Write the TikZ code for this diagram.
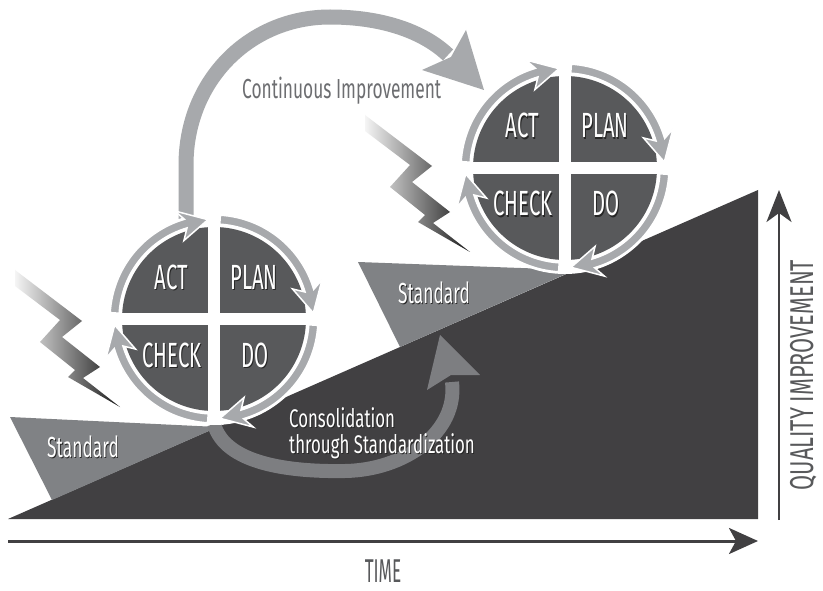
\documentclass[tikz,border=0pt]{standalone}
\usepackage{fontspec}
\setmainfont{Fira Sans}
\usetikzlibrary{calc,arrows.meta}

\definecolor{rampgray}{HTML}{414042}
\definecolor{stdgray}{HTML}{808285}
\definecolor{quadgray}{HTML}{58595B}
\definecolor{ringgray}{HTML}{A7A9AC}
\definecolor{consgray}{HTML}{7D7E81}
\definecolor{labelgray}{HTML}{6D6E71}
\definecolor{axisgray}{HTML}{414042}

% white lettering with a small dark drop shadow
\newcommand\shd[1]{\rlap{\kern1.4pt\raisebox{-1.4pt}{\color{black!85}#1}}#1}

% radii of the PDCA wheel
\def\pdRout{104}
\def\pdRin{95}
\def\pdRmid{99.5}
\def\pdRquad{92}

% one curved ring arrow: #1 centre, #2 start angle, #3 tip angle (clockwise)
\newcommand\pdcaseg[3]{%
  \pgfmathsetmacro\segE{#3-13}%
  \filldraw[ringseg] ($(#1)+(#2:\pdRout)$)
    arc[start angle=#2, end angle=\segE, radius=\pdRout]
    -- ($(#1)+({\segE-3.5}:{\pdRout+11})$)
    -- ($(#1)+(#3:\pdRmid)$)
    -- ($(#1)+({\segE-4.5}:{\pdRin-11})$)
    -- ($(#1)+(\segE:\pdRin)$)
    arc[start angle=\segE, end angle=#2, radius=\pdRin] -- cycle;
}

% a full Plan-Do-Check-Act wheel: #1 name, #2 x, #3 y
\newcommand\pdcawheel[3]{%
  \coordinate (#1) at (#2,#3);
  \fill[white] (#1) circle[radius=106];
  \fill[quadgray] (#1) circle[radius=\pdRquad];
  \draw[white, line width=12pt] ($(#1)+(-96,0)$) -- ($(#1)+(96,0)$);
  \draw[white, line width=12pt] ($(#1)+(0,-96)$) -- ($(#1)+(0,96)$);
  \pdcaseg{#1}{183.5}{266.5}
  \pdcaseg{#1}{273.5}{356.5}
  \pdcaseg{#1}{3.5}{86.5}
  \pdcaseg{#1}{93.5}{176.5}
  \node[pdcalabel] (#1act)   at ($(#1)+(-42.5,-30)$) {\scalebox{\pdsx}[1]{\shd{ACT}}};
  \node[pdcalabel] (#1plan)  at ($(#1)+(40,-30)$)    {\scalebox{\pdsx}[1]{\shd{PLAN}}};
  \node[pdcalabel] (#1check) at ($(#1)+(-42,48)$)    {\scalebox{\pdsx}[1]{\shd{CHECK}}};
  \node[pdcalabel] (#1do)    at ($(#1)+(41,48)$)     {\scalebox{\pdsx}[1]{\shd{DO}}};
}
\def\pdsx{0.58}

% zig-zag disturbance, shifted by (#1,#2)
\newcommand\zigbolt[2]{%
  \begin{scope}[shift={(#1,#2)}]
    \shade[left color=black!4, right color=black!90]
      (15,270) -- (82,321) -- (62,337) -- (100,367) -- (83,378) -- (120,407)
      -- (68,377) -- (75,370) -- (40,342) -- (60,320) -- (15,286) -- cycle;
  \end{scope}
}

\tikzset{
  ringseg/.style={fill=ringgray, draw=white, line width=1.5pt, line join=miter},
  pdcalabel/.style={text=white, anchor=base, inner sep=0pt, font=\fontsize{35}{35}\selectfont},
  stdlabel/.style={text=white, anchor=base west, inner sep=0pt, font=\fontsize{29}{29}\selectfont},
  conslabel/.style={text=white, anchor=base west, inner sep=0pt, font=\fontsize{25.5}{25.5}\selectfont},
  axislabel/.style={text=quadgray, inner sep=0pt, anchor=base, font=\fontsize{35}{35}\selectfont},
  axisline/.style={draw=axisgray, line width=3pt, -{Stealth[length=29pt, width=26pt, inset=7pt]}},
}

\begin{document}
\begin{tikzpicture}[x=1pt, y=1pt, yscale=-1]
  \useasboundingbox (0,0) rectangle (823,591);
  \fill[white] (0,0) rectangle (823,591);

  % continuous improvement arc from the lower wheel to the upper one
  \coordinate (ciStart) at (186,222);
  \coordinate (ciEnd) at (448,55);
  \draw[ringgray, line width=15pt] (ciStart) -- (186,165)
    .. controls (186,80) and (250,17) .. (330,17)
    .. controls (385,17) and (425,33) .. (ciEnd);
  \fill[ringgray] (466,30) -- (484,90) -- (422,70) -- (451,57) -- cycle;

  % rising quality ramp
  \fill[rampgray] (8,519) -- (758,519) -- (758,190) -- cycle;

  % standard wedges
  \fill[stdgray] (10,417) -- (218,427) -- (52,500) -- cycle;
  \fill[stdgray] (358,262) -- (575,270) -- (400,347) -- cycle;

  % consolidation arrow on the ramp
  \coordinate (consStart) at (214,424);
  \coordinate (consEnd) at (452,382);
  \draw[consgray, line width=14pt] (consStart)
    .. controls (225,464) and (290,472) .. (345,471)
    .. controls (405,470) and (458,432) .. (consEnd);
  \fill[consgray] (427,390) -- (440,335) -- (480,375) -- (451,375) -- cycle;

  % disturbances
  \zigbolt{0}{0}
  \zigbolt{350}{-155}

  % PDCA wheels
  \pdcawheel{low}{214}{319}
  \pdcawheel{up}{565}{168}

  % labels
  \node[text=labelgray, anchor=base west, inner sep=0pt, font=\fontsize{27.5}{27.5}\selectfont]
    (ci) at (242,99) {\scalebox{0.63}[1]{Continuous Improvement}};
  \node[stdlabel] (stdlow) at (47,457) {\scalebox{0.6}[1]{\shd{Standard}}};
  \node[stdlabel] (stdup) at (398,303) {\scalebox{0.6}[1]{\shd{Standard}}};
  \node[conslabel] (cons1) at (289,427) {\scalebox{0.66}[1]{\shd{Consolidation}}};
  \node[conslabel] (cons2) at (289,453) {\scalebox{0.66}[1]{\shd{through Standardization}}};

  % axes
  \coordinate (tA) at (8,541);
  \coordinate (tB) at (758,541);
  \draw[axisline] (tA) -- (tB);
  \coordinate (qA) at (779,520);
  \coordinate (qB) at (779,190);
  \draw[axisline, line width=2.5pt, -{Stealth[length=32pt, width=25pt, inset=9pt]}] (qA) -- (qB);
  \node[axislabel, font=\fontsize{33}{33}\selectfont] (time) at (383,582) {\scalebox{0.52}[1]{TIME}};
  \node[axislabel, font=\fontsize{33}{33}\selectfont, rotate=90] (quality) at (813,375)
    {\scalebox{0.66}[1]{QUALITY IMPROVEMENT}};
\end{tikzpicture}
\end{document}
